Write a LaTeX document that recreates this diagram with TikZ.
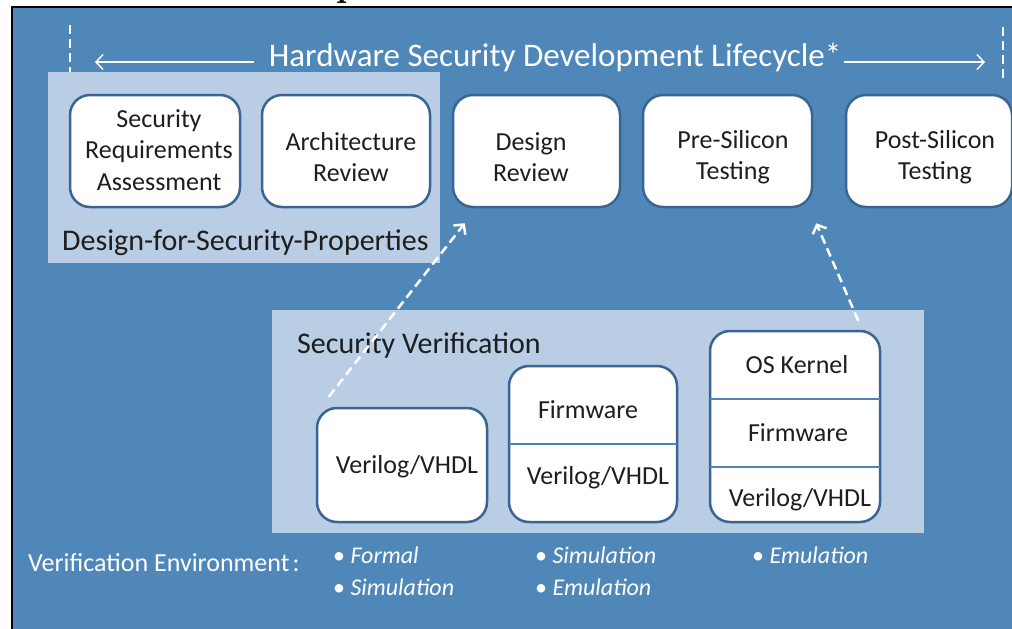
\documentclass[tikz,border=0pt]{standalone}
\usepackage{fontspec}
\setmainfont{Carlito}
\usepackage{tikz}
\usetikzlibrary{arrows.meta}

\definecolor{bgblue}{HTML}{5087B9}
\definecolor{panelblue}{HTML}{B9CDE4}
\definecolor{boxedge}{HTML}{3A6494}
\definecolor{splitblue}{HTML}{4F81BD}
\definecolor{inktext}{HTML}{1E1E1E}

\begin{document}
\begin{tikzpicture}[x=1pt, y=-1pt,
    stagebox/.style={draw=boxedge, line width=2.5pt, rounded corners=20pt, fill=white, inner sep=0pt},
    layertext/.style={text=inktext, font=\fontsize{26}{31.5}\selectfont, align=center, inner sep=0pt},
    splitline/.style={splitblue, line width=2pt},
    paneltext/.style={text=inktext, font=\fontsize{30}{36}\selectfont, anchor=west, inner sep=0pt},
    envtext/.style={text=white, font=\fontsize{24}{28}\selectfont, anchor=west, inner sep=0pt},
    marktick/.style={white, line width=2.5pt, dash pattern=on 9pt off 5pt},
    lifearrow/.style={white, line width=1.5pt, -{Straight Barb[length=7pt,width=15pt]}},
    verarrow/.style={white, line width=2.5pt, dash pattern=on 9pt off 5pt,
        -{Straight Barb[length=7pt,width=15pt]}}]

    \useasboundingbox (0,0) rectangle (1012,629);
    \fill[white] (0,0) rectangle (1012,629);
    \begin{scope}
        \clip (300,0) rectangle (400,7);
        \node[anchor=base west, inner sep=0pt, font=\bfseries\fontspec{Latin Modern Roman}\fontsize{36}{36}\selectfont]
            (cutglyph) at (336,-3) {p};
    \end{scope}
    \fill[bgblue] (12,7) rectangle (1012,629);
    \draw[black, line width=2pt] (12,629) -- (12,7) -- (1012,7);

    % lifecycle banner
    \draw[marktick] (70,25) -- (70,78);
    \draw[marktick] (1003,27) -- (1003,80);
    \node[text=white, font=\fontsize{33}{33}\selectfont, inner sep=0pt] (hsdl) at (555,57)
        {Hardware Security Development Lifecycle*};
    \coordinate (lifeL) at (95,62);
    \coordinate (lifeR) at (985,62);
    \draw[lifearrow] ([xshift=-15pt]hsdl.west |- lifeL) -- (lifeL);
    \draw[lifearrow] ([xshift=3pt]hsdl.east |- lifeR) -- (lifeR);

    % design-for-security panel
    \fill[panelblue] (48,72) rectangle (440,263);
    \node[paneltext] (dfsp) at (62,243) {Design-for-Security-Properties};

    \node[stagebox, minimum width=170pt, minimum height=112pt] (sra) at (155,151) {};
    \node[layertext] (sratxt) at (159,150) {Security\\Requirements\\Assessment};
    \node[stagebox, minimum width=168pt, minimum height=112pt] (arch) at (346,151) {};
    \node[layertext] (archtxt) at (351,157) {Architecture\\Review};
    \node[stagebox, minimum width=167pt, minimum height=112pt] (desrev) at (536.5,151) {};
    \node[layertext] (desrevtxt) at (531,157) {Design\\Review};
    \node[stagebox, minimum width=169pt, minimum height=112pt] (presil) at (727.5,151) {};
    \node[layertext] (presiltxt) at (733,157) {Pre-Silicon\\Testing};
    \node[stagebox, minimum width=166pt, minimum height=112pt] (postsil) at (929,151) {};
    \node[layertext] (postsiltxt) at (935,157) {Post-Silicon\\Testing};

    % security verification panel
    \fill[panelblue] (272,310) rectangle (924,533);
    \node[paneltext] (secver) at (297,346) {Security Verification};

    \node[stagebox, minimum width=170pt, minimum height=114pt] (formalbox) at (402,465) {};
    \node[layertext] (rtlA) at (407,467) {Verilog/VHDL};

    \node[stagebox, minimum width=168pt, minimum height=156pt] (simbox) at (593,444) {};
    \draw[splitline] ([xshift=1.3pt]simbox.west |- 0,444) -- ([xshift=-1.3pt]simbox.east |- 0,444);
    \node[layertext] (fwB) at (588,410) {Firmware};
    \node[layertext] (rtlB) at (598,478) {Verilog/VHDL};

    \node[stagebox, minimum width=170pt, minimum height=191pt] (emubox) at (795,426.5) {};
    \draw[splitline] ([xshift=1.3pt]emubox.west |- 0,399) -- ([xshift=-1.3pt]emubox.east |- 0,399);
    \draw[splitline] ([xshift=1.3pt]emubox.west |- 0,467) -- ([xshift=-1.3pt]emubox.east |- 0,467);
    \node[layertext] (osC) at (797,365) {OS Kernel};
    \node[layertext] (fwC) at (798,433) {Firmware};
    \node[layertext] (rtlC) at (800,500) {Verilog/VHDL};

    \draw[verarrow] ([shift={(13,-10)}]formalbox.north west) -- ([shift={(13,15)}]desrev.south west);
    \draw[verarrow] ([shift={(-23,-9)}]emubox.north east) -- ([shift={(3,15)}]presil.south east);

    % verification environments
    \node[envtext, font=\fontsize{26}{30}\selectfont] (envlabel) at (28,563) {Verification Environment\hspace{3pt}:};
    \node[envtext] (envA1) at (333,555) {\textbullet\ \textit{Formal}};
    \node[envtext] (envA2) at (333,587) {\textbullet\ \textit{Simulation}};
    \node[envtext] (envB1) at (535,555) {\textbullet\ \textit{Simulation}};
    \node[envtext] (envB2) at (535,587) {\textbullet\ \textit{Emulation}};
    \node[envtext] (envC1) at (752,555) {\textbullet\ \textit{Emulation}};
\end{tikzpicture}
\end{document}
